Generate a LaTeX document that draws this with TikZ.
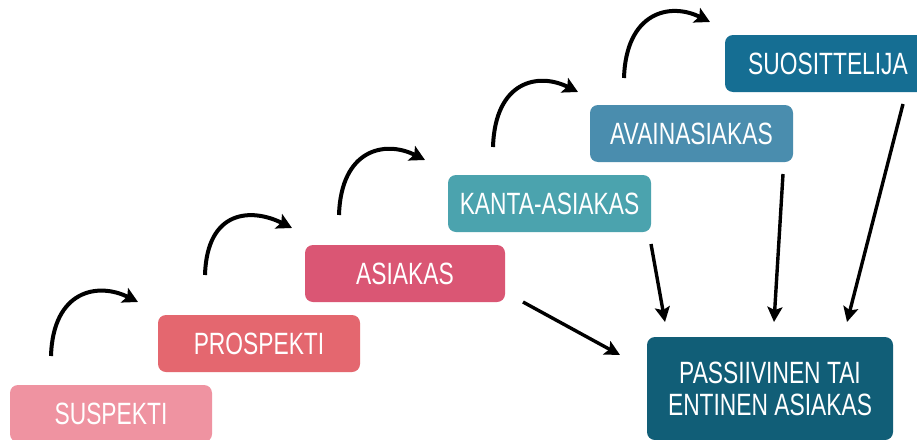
\documentclass[tikz,border=0pt]{standalone}
\usepackage{fontspec}
\newfontfamily\boxfont{Liberation Sans}[FakeStretch=0.74]
\usetikzlibrary{arrows.meta}
\definecolor{cSus}{HTML}{EF93A1}
\definecolor{cPro}{HTML}{E4676F}
\definecolor{cAsi}{HTML}{DA5674}
\definecolor{cKan}{HTML}{4BA3AE}
\definecolor{cAva}{HTML}{4A8DAE}
\definecolor{cSuo}{HTML}{156E93}
\definecolor{cPas}{HTML}{115E77}
\tikzset{
  stagebox/.style={rounded corners=8pt, text=white, inner sep=0pt,
    font=\boxfont\fontsize{30.8}{32}\selectfont, align=center,
    minimum height=57pt, minimum width=202pt},
  curvarr/.style={line width=4pt, -{Stealth[length=15pt,width=16pt,inset=3pt]}},
  strarr/.style={line width=3.4pt, -{Stealth[length=15pt,width=15pt,inset=3pt]}}
}
\begin{document}
\begin{tikzpicture}[x=1pt,y=-1pt]
\useasboundingbox[fill=white] (0,0) rectangle (917,439);
% boxes
\node[stagebox, fill=cSus] (sus) at (111,413.5) {SUSPEKTI};
\node[stagebox, fill=cPro] (pro) at (259,343.5) {PROSPEKTI};
\node[stagebox, fill=cAsi, minimum width=200pt] (asi) at (405,273.5) {ASIAKAS};
\node[stagebox, fill=cKan, minimum width=203pt] (kan) at (549.5,203.5) {KANTA-ASIAKAS};
\node[stagebox, fill=cAva, minimum width=203pt] (ava) at (691.5,133.5) {AVAINASIAKAS};
\node[stagebox, fill=cSuo, minimum width=206pt] (suo) at (828,63.5) {SUOSITTELIJA};
\node[stagebox, fill=cPas, minimum width=246pt, minimum height=103pt] (pas) at (770,388.5) {PASSIIVINEN TAI\\ENTINEN ASIAKAS};
% curved arrow coordinates
\coordinate (s1) at (51,356);  \coordinate (t1) at (138,302);
\coordinate (s2) at (205,275); \coordinate (t2) at (292,228);
\coordinate (s3) at (339,215); \coordinate (t3) at (425,160);
\coordinate (s4) at (493,147); \coordinate (t4) at (578,92);
\coordinate (s5) at (624,78);  \coordinate (t5) at (710,22);
\foreach \i in {1,...,5}{
  \draw[curvarr] (s\i) .. controls +(2,-66) and +(-40,-20) .. (t\i);
}
% straight arrows
\coordinate (d1s) at (523,302); \coordinate (d1t) at (620,355);
\coordinate (d2s) at (651,244); \coordinate (d2t) at (665,322);
\coordinate (d3s) at (783,174); \coordinate (d3t) at (774,322);
\coordinate (d4s) at (903,104); \coordinate (d4t) at (847,322);
\draw[strarr] (d1s) -- (d1t);
\draw[strarr] (d2s) -- (d2t);
\draw[strarr] (d3s) -- (d3t);
\draw[strarr] (d4s) -- (d4t);
\end{tikzpicture}
\end{document}
